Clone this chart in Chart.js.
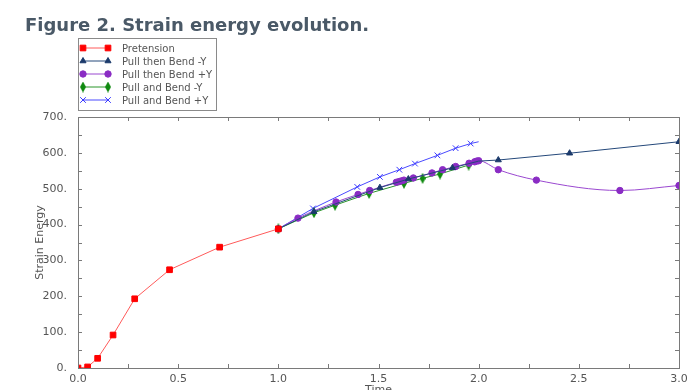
<!DOCTYPE html>
<html lang="en">
<head>
    <meta charset="UTF-8">
    <title>Strain energy evolution</title>
    <script src="https://cdn.jsdelivr.net/npm/chart.js@4.4.0/dist/chart.umd.min.js"></script>
    <style>
        body{ margin:0; background:#fff; }
        #board{ position:relative; width:690px; height:390px; }
        #title{ /* 그림 제목 */
            position:absolute; left:25px; top:14px;
            font:bold 18px "DejaVu Sans", Verdana, sans-serif;
            color:#4a5967;
        }
    </style>
</head>
<body>
    <div id="board">
        <canvas id="chart1" width="690" height="390"></canvas>
        <div id="title">Figure 2. Strain energy evolution.</div>
    </div>
</body>
</html>
<script>
    // 데이터
    const pretensionTime   = [0.0, 0.048, 0.098, 0.175, 0.283, 0.457, 0.707, 1.0];
    const pretensionEnergy = [0, 3, 27, 92, 193, 274, 337, 388];

    const pullBendNegYTime   = [1.0, 1.178, 1.507, 1.649, 1.869, 2.0, 2.098, 2.454, 3.0];
    const pullBendNegYEnergy = [388, 436, 503, 527, 558, 577, 580, 599, 631];

    const pullBendPosYTime   = [1.0, 1.098, 1.288, 1.398, 1.456, 1.589, 1.603, 1.615, 1.627, 1.674, 1.767, 1.82, 1.885, 1.952, 1.98, 1.99, 2.0, 2.098, 2.288, 2.705, 3.0];
    const pullBendPosYEnergy = [388, 418, 463, 484, 495, 518, 520, 522, 524, 530, 544, 553, 562, 571, 575, 577, 578, 553, 524, 495, 509];

    const andBendNegYTime   = [1.0, 1.178, 1.283, 1.453, 1.627, 1.72, 1.807, 1.95, 2.0];
    const andBendNegYEnergy = [388, 433, 454, 487, 515, 529, 541, 566, 575];

    const andBendPosYTime   = [1.0, 1.173, 1.394, 1.507, 1.604, 1.682, 1.794, 1.885, 1.96, 2.0];
    const andBendPosYEnergy = [388, 445, 505, 533, 553, 570, 593, 613, 626, 631];

    const xTicks = [0, 0.5, 1.0, 1.5, 2.0, 2.5, 3.0];
    const yTicks = [0, 100, 200, 300, 400, 500, 600, 700];

    const toPts = (xs, ys) => xs.map((x, i) => ({x: x, y: ys[i]}));
    // 끝점(2.0)에는 마커가 없음
    const noMarkAt = (arr, r) => c => (arr[c.dataIndex] === 2.0 ? 0 : r);

    // 세로로 긴 다이아몬드 마커
    const diamond = document.createElement('canvas');
    diamond.width = 6; diamond.height = 11;
    (function(){
        const c = diamond.getContext('2d');
        c.fillStyle = '#108a10';
        c.beginPath();
        c.moveTo(3, 0); c.lineTo(6, 5.5); c.lineTo(3, 11); c.lineTo(0, 5.5);
        c.closePath(); c.fill();
    })();

    // 테두리 + 안쪽 눈금 + 범례
    const framePlugin = {
        id: 'frame',
        afterDraw(chart){
            const ctx = chart.ctx;
            const a = chart.chartArea;
            const xs = chart.scales.x, ys = chart.scales.y;
            ctx.save();
            ctx.strokeStyle = '#7a7a7a';
            ctx.lineWidth = 1;
            ctx.strokeRect(a.left + 0.5, a.top + 0.5, a.right - a.left, a.bottom - a.top);
            ctx.beginPath();
            for (let v = 0; v <= 3.0001; v += 0.25) {
                const px = Math.round(xs.getPixelForValue(v)) + 0.5;
                ctx.moveTo(px, a.bottom); ctx.lineTo(px, a.bottom - 4);
                ctx.moveTo(px, a.top); ctx.lineTo(px, a.top + 4);
            }
            for (let v = 0; v <= 700; v += 50) {
                const py = Math.round(ys.getPixelForValue(v)) + 0.5;
                ctx.moveTo(a.left, py); ctx.lineTo(a.left + 4, py);
                ctx.moveTo(a.right, py); ctx.lineTo(a.right - 4, py);
            }
            ctx.stroke();

            // 범례
            const bx = 78.5, by = 38.5, bw = 138, bh = 72;
            ctx.fillStyle = '#fff';
            ctx.fillRect(bx, by, bw, bh);
            ctx.strokeStyle = '#8a8a8a';
            ctx.strokeRect(bx, by, bw, bh);
            ctx.font = '10px "DejaVu Sans", Verdana, sans-serif';
            ctx.textBaseline = 'middle';
            chart.data.datasets.forEach((ds, i) => {
                const y = 48 + i * 13;
                ctx.strokeStyle = ds.borderColor;
                ctx.lineWidth = 1;
                ctx.beginPath(); ctx.moveTo(83, y); ctx.lineTo(108, y); ctx.stroke();
                ctx.fillStyle = ds.pointBackgroundColor;
                ctx.strokeStyle = ds.pointBorderColor;
                const r = typeof ds.pointRadius === 'function' ? ds.legendRadius : ds.pointRadius;
                const opt = {pointStyle: ds.pointStyle, radius: r, rotation: 0, borderWidth: ds.pointBorderWidth};
                Chart.helpers.drawPoint(ctx, opt, 83, y);
                Chart.helpers.drawPoint(ctx, opt, 108, y);
                ctx.fillStyle = '#555';
                ctx.fillText(ds.label, 122, y + 1);
            });
            ctx.restore();
        }
    };

    const axisFont = { family: '"DejaVu Sans", Verdana, sans-serif', size: 11 };

    const ctx = document.getElementById('chart1').getContext('2d');
    new Chart(ctx, {
        type: 'line',
        data: {
            datasets: [{
                label: 'Pretension',
                data: toPts(pretensionTime, pretensionEnergy),
                borderColor: '#ff5a5a', borderWidth: 1,
                pointStyle: 'rect', pointRadius: 4, pointBorderWidth: 1,
                pointBackgroundColor: '#ff0000', pointBorderColor: '#ff0000'
            }, {
                label: 'Pull then Bend -Y',
                data: toPts(pullBendNegYTime, pullBendNegYEnergy),
                borderColor: '#24487a', borderWidth: 1,
                pointStyle: 'triangle', pointRadius: noMarkAt(pullBendNegYTime, 3.5), legendRadius: 3.5,
                pointBorderWidth: 1,
                pointBackgroundColor: '#1b3a6b', pointBorderColor: '#1b3a6b'
            }, {
                label: 'Pull then Bend +Y',
                data: toPts(pullBendPosYTime, pullBendPosYEnergy),
                borderColor: '#9a48d0', borderWidth: 1,
                cubicInterpolationMode: 'monotone',
                pointStyle: 'circle', pointRadius: 3.2, pointBorderWidth: 1,
                pointBackgroundColor: '#8a2cc4', pointBorderColor: '#8a2cc4'
            }, {
                label: 'Pull and Bend -Y',
                data: toPts(andBendNegYTime, andBendNegYEnergy),
                borderColor: '#2a962a', borderWidth: 1,
                pointStyle: diamond, pointRadius: noMarkAt(andBendNegYTime, 4), legendRadius: 4,
                pointBorderWidth: 1,
                pointBackgroundColor: '#108a10', pointBorderColor: '#108a10'
            }, {
                label: 'Pull and Bend +Y',
                data: toPts(andBendPosYTime, andBendPosYEnergy),
                borderColor: '#4a4aff', borderWidth: 1,
                pointStyle: 'crossRot', pointRadius: noMarkAt(andBendPosYTime, 4), legendRadius: 4,
                pointBorderWidth: 1,
                pointBackgroundColor: '#3a3aff', pointBorderColor: '#3a3aff'
            }]
        },
        options: {
            responsive: false,
            animation: false,
            layout: { padding: { top: 117, right: 11, left: 0, bottom: 0 } },
            plugins: { legend: { display: false }, tooltip: { enabled: false } },
            scales: {
                x: {
                    type: 'linear', min: 0, max: 3,
                    grid: { display: false }, border: { display: false },
                    afterBuildTicks: s => { s.ticks = xTicks.map(v => ({value: v})); },
                    afterFit: s => { s.height = 22; },
                    ticks: { color: '#555', padding: -3, maxRotation: 0, font: axisFont,
                        callback: v => Number(v).toFixed(1) },
                    title: { display: true, text: 'Time', color: '#555',
                        padding: { top: 0, bottom: -7 }, font: axisFont }
                },
                y: {
                    min: 0, max: 700,
                    grid: { display: false }, border: { display: false },
                    afterBuildTicks: s => { s.ticks = yTicks.map(v => ({value: v})); },
                    afterFit: s => { s.width = 78; },
                    ticks: { color: '#555', padding: 3, font: axisFont,
                        callback: v => v + '.' },
                    title: { display: true, text: 'Strain Energy', color: '#555',
                        padding: { top: 34, bottom: 0 }, font: axisFont }
                }
            }
        },
        plugins: [framePlugin]
    });
</script>
